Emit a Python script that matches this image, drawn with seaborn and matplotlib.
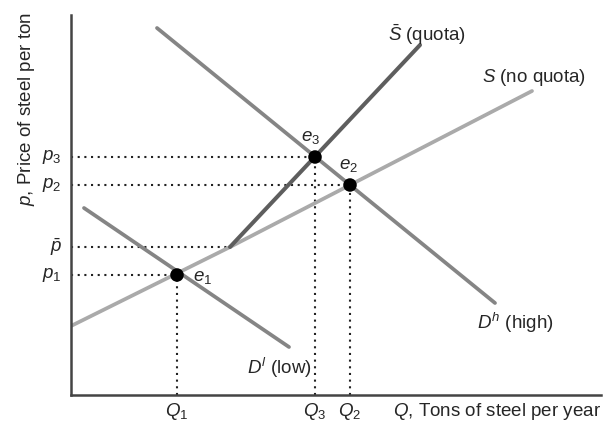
import matplotlib
matplotlib.use("Agg")
import matplotlib.pyplot as plt
import seaborn as sns

# ------------------------------
# Data
# ------------------------------
# quantities and prices at the equilibria
q_vals = {"Q1": 106, "Q3": 244, "Q2": 279}
p_vals = {"p1": 120, "pbar": 148, "p2": 210, "p3": 238}

# curves: x (quantity), y (price)
s_x = [0, 159, 461]          # S (no quota)
s_y = [69, 148, 304]
sbar_x = [159, 349]          # S-bar (quota), starts at the kink
sbar_y = [148, 350]
dh_x = [86, 424]             # D^h (high)
dh_y = [367, 92]
dl_x = [13, 218]             # D^l (low)
dl_y = [187, 48]

# equilibrium points
eq_x = [106, 279, 244]
eq_y = [120, 210, 238]
eq_names = ["$e_1$", "$e_2$", "$e_3$"]

sns.set_style("white")
plt.rcParams["font.family"] = ["Liberation Sans", "DejaVu Sans"]
plt.rcParams["mathtext.fontset"] = "custom"
plt.rcParams["mathtext.rm"] = "Liberation Sans"
plt.rcParams["mathtext.it"] = "Liberation Sans:italic"

fig = plt.figure(figsize=(6.05, 4.25), dpi=100)
ax = fig.add_axes([71 / 605, 30 / 425, 530 / 605, 380 / 425])

# dotted guide lines
dot = (0, (1, 2.2))
h_end = {"p1": q_vals["Q1"], "pbar": s_x[1], "p2": q_vals["Q2"], "p3": q_vals["Q3"]}
for name, p in p_vals.items():
    ax.plot([0, h_end[name]], [p, p], ls=dot, color="#222222", lw=1.5, zorder=1)
q_top = {"Q1": p_vals["p1"], "Q3": p_vals["p3"], "Q2": p_vals["p2"]}
for name, q in q_vals.items():
    ax.plot([q, q], [0, q_top[name]], ls=dot, color="#222222", lw=1.5, zorder=1)

# curves
sns.lineplot(x=s_x, y=s_y, ax=ax, color="#aaaaaa", lw=2.7, sort=False, zorder=2)
sns.lineplot(x=sbar_x, y=sbar_y, ax=ax, color="#5e5e5e", lw=2.9, sort=False, zorder=3)
sns.lineplot(x=dh_x, y=dh_y, ax=ax, color="#858585", lw=2.7, sort=False, zorder=2)
sns.lineplot(x=dl_x, y=dl_y, ax=ax, color="#858585", lw=2.7, sort=False, zorder=2)
sns.scatterplot(x=eq_x, y=eq_y, ax=ax, color="black", s=95, zorder=5, edgecolor="none")

ax.set_xlim(0, 530)
ax.set_ylim(0, 380)
sns.despine(ax=ax)
for sp in ["left", "bottom"]:
    ax.spines[sp].set_color("#444444")
    ax.spines[sp].set_linewidth(1.8)
ax.set_xticks([])
ax.set_yticks([])

fs = 13.5
# equilibrium labels
ax.text(eq_x[0] + 16, eq_y[0] - 3, eq_names[0], fontsize=fs, va="center")
ax.text(eq_x[1] - 1, eq_y[1] + 20, eq_names[1], fontsize=fs, ha="center", va="center")
ax.text(eq_x[2] - 4, eq_y[2] + 20, eq_names[2], fontsize=fs, ha="center", va="center")

# curve labels
ax.text(317, 360, r"$\bar{S}$ (quota)", fontsize=fs, va="center")
ax.text(411, 318, "$S$ (no quota)", fontsize=fs, va="center")
ax.text(406, 72, "$D^h$ (high)", fontsize=fs, va="center")
ax.text(176, 27, "$D^l$ (low)", fontsize=fs, va="center")

# axis value labels
p_labels = {"p1": "$p_1$", "pbar": r"$\bar{p}$", "p2": "$p_2$", "p3": "$p_3$"}
for name, p in p_vals.items():
    ax.text(-9, p, p_labels[name], fontsize=fs, ha="right", va="center")
q_labels = {"Q1": "$Q_1$", "Q3": "$Q_3$", "Q2": "$Q_2$"}
for name, q in q_vals.items():
    ax.text(q, -16, q_labels[name], fontsize=fs, ha="center", va="center")

ax.text(530, -16, "$Q$, Tons of steel per year", fontsize=fs, ha="right", va="center")
ax.text(-44, 383, "$p$, Price of steel per ton", fontsize=fs, ha="center", va="top",
        rotation=90)

fig.savefig("out.png", dpi=100)
